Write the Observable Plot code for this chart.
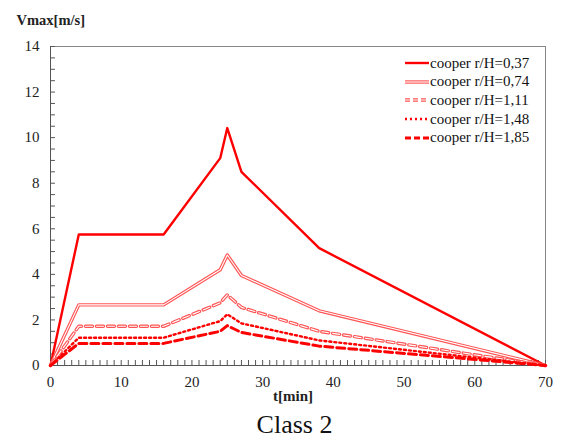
<!DOCTYPE html>
<html><head><meta charset="utf-8">
<script src="https://cdn.jsdelivr.net/npm/d3@7"></script>
<script src="https://cdn.jsdelivr.net/npm/@observablehq/plot@0.6"></script>
<style>
body{margin:0;background:#fff;font-family:"Liberation Serif","Times New Roman",serif;}
#chart svg, #chart svg text{font-family:"Liberation Serif","Times New Roman",serif !important;}
#wrap{position:relative;width:561px;}
#cap{width:561px;text-align:center;font-size:26px;line-height:30px;padding-left:28px;box-sizing:border-box;color:#111;}
#legend{position:absolute;left:405px;top:54px;font-size:15px;font-family:"Liberation Serif","Times New Roman",serif;color:#111;}
#legend div{height:18.6px;display:flex;align-items:center;white-space:nowrap;}
#legend svg{margin-right:1px;}
</style></head><body>
<div id="wrap"><div id="chart"></div><div id="legend"></div></div>
<div id="cap">Class 2</div>
<script>
const times = [0, 4, 16, 24, 25, 27, 38, 70];
const seriesNames = ["cooper r/H=0,37","cooper r/H=0,74","cooper r/H=1,11","cooper r/H=1,48","cooper r/H=1,85"];
const s037 = [0, 5.75, 5.75, 9.1, 10.42, 8.5, 5.15, 0];
const s074 = [0, 2.66, 2.66, 4.2, 4.85, 3.95, 2.4, 0];
const s111 = [0, 1.72, 1.72, 2.75, 3.1, 2.55, 1.5, 0];
const s148 = [0, 1.22, 1.22, 1.95, 2.25, 1.85, 1.1, 0];
const s185 = [0, 0.97, 0.97, 1.5, 1.75, 1.45, 0.85, 0];
const xTicks = [0,10,20,30,40,50,60,70];
const yTicks = [0,2,4,6,8,10,12,14];

const allValues = [s037,s074,s111,s148,s185];
const rows = [];
allValues.forEach((vals,i)=>vals.forEach((v,j)=>rows.push({series:seriesNames[i],t:times[j],v})));
const by = name => rows.filter(r=>r.series===name);

const xMinor = d3.range(0,71,1);
const yMinor = d3.range(0,14.01,0.5);

const chart = Plot.plot({
  width:561, height:410,
  marginLeft:50, marginRight:16, marginTop:46, marginBottom:45,
  style:{fontFamily:"Liberation Serif, serif", fontSize:"15px", color:"#222", background:"#fff"},
  x:{domain:[0,70], ticks:xTicks, tickSize:0, tickPadding:11, label:null},
  y:{domain:[0,14], ticks:yTicks, tickSize:0, tickPadding:11, label:null},
  marks:[
    Plot.frame({stroke:"#888"}),
    Plot.ruleX(xMinor,{x:d=>d, y1:0, y2:0.22, stroke:"#555"}),
    Plot.ruleY(yMinor,{y:d=>d, x1:0, x2:0.7, stroke:"#555"}),
    Plot.ruleX([0],{stroke:"#555"}),
    Plot.ruleY([0],{stroke:"#555"}),
    Plot.line(by(seriesNames[0]),{x:"t",y:"v",stroke:"#f00",strokeWidth:2.4}),
    Plot.line(by(seriesNames[1]),{x:"t",y:"v",stroke:"#f55",strokeWidth:3.4}),
    Plot.line(by(seriesNames[1]),{x:"t",y:"v",stroke:"#fff",strokeWidth:1.1}),
    Plot.line(by(seriesNames[2]),{x:"t",y:"v",stroke:"#f55",strokeWidth:3.4,strokeDasharray:"7,4"}),
    Plot.line(by(seriesNames[2]),{x:"t",y:"v",stroke:"#fff",strokeWidth:1.1,strokeDasharray:"7,4"}),
    Plot.line(by(seriesNames[3]),{x:"t",y:"v",stroke:"#f00",strokeWidth:2.4,strokeDasharray:"2,3"}),
    Plot.line(by(seriesNames[4]),{x:"t",y:"v",stroke:"#f00",strokeWidth:3,strokeDasharray:"8,4"}),
    Plot.text(["t[min]"],{frameAnchor:"bottom",dy:35,dx:-5,fontWeight:"bold",fontSize:15}),
    Plot.text(["Vmax[m/s]"],{frameAnchor:"top-left",dx:-34,dy:-32,fontWeight:"bold",fontSize:14.5,textAnchor:"start"})
  ]
});
document.getElementById("chart").appendChild(chart);

const styles = [
  [{c:"#f00",w:2.4,d:""}],
  [{c:"#f55",w:3.4,d:""},{c:"#fff",w:1.1,d:""}],
  [{c:"#f55",w:3.4,d:"5,3"},{c:"#fff",w:1.1,d:"5,3"}],
  [{c:"#f00",w:2.4,d:"2,3"}],
  [{c:"#f00",w:3,d:"6,3"}]
];
const leg = document.getElementById("legend");
seriesNames.forEach((n,i)=>{
  const div=document.createElement("div");
  const lines = styles[i].map(s=>`<line x1="0" x2="24" y1="5" y2="5" stroke="${s.c}" stroke-width="${s.w}" stroke-dasharray="${s.d}"/>`).join("");
  div.innerHTML=`<svg width="24" height="10">${lines}</svg><span>${n}</span>`;
  leg.appendChild(div);
});
</script>
</body></html>
